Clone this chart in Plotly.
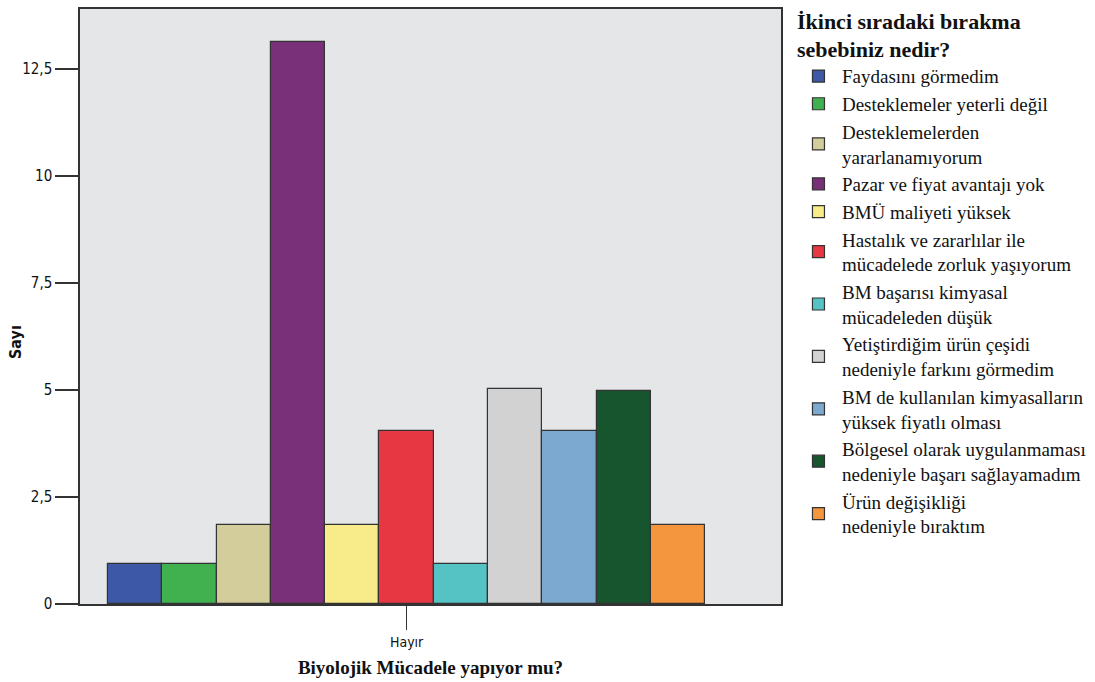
import plotly.graph_objects as go

category = ["Hayır"]
reasons = [
    "Faydasını görmedim",
    "Desteklemeler yeterli değil",
    "Desteklemelerden<br>yararlanamıyorum",
    "Pazar ve fiyat avantajı yok",
    "BMÜ maliyeti yüksek",
    "Hastalık ve zararlılar ile<br>mücadelede zorluk yaşıyorum",
    "BM başarısı kimyasal<br>mücadeleden düşük",
    "Yetiştirdiğim ürün çeşidi<br>nedeniyle farkını görmedim",
    "BM de kullanılan kimyasalların<br>yüksek fiyatlı olması",
    "Bölgesel olarak uygulanmaması<br>nedeniyle başarı sağlayamadım",
    "Ürün değişikliği<br>nedeniyle bıraktım",
]
counts = [0.93, 0.93, 1.84, 13.14, 1.84, 4.05, 0.93, 5.03, 4.05, 4.98, 1.84]
colors = ["#3E58A8", "#41B04F", "#D3CD9B", "#7A2F79", "#F8EC8A", "#E63743",
          "#55C3C4", "#D2D2D2", "#7BA9CF", "#17552E", "#F4963E"]
ytick_vals = [0, 2.5, 5, 7.5, 10, 12.5]
ytick_text = ["0", "2,5", "5", "7,5", "10", "12,5"]

fig = go.Figure()
for name, val, col in zip(reasons, counts, colors):
    fig.add_trace(go.Bar(
        x=category, y=[val], name=name,
        marker=dict(color=col, line=dict(color="#333333", width=1.2)),
    ))

sans = "Liberation Sans Narrow, DejaVu Sans Condensed, Roboto"
serif = "Liberation Serif"
tick_font = dict(family=sans, size=15, color="#111")
fig.update_layout(
    width=1095, height=682,
    margin=dict(l=80, r=314, t=9, b=78, autoexpand=False),
    paper_bgcolor="white",
    plot_bgcolor="#E5E6E8",
    barmode="group", bargap=0, bargroupgap=0,
    showlegend=True,
    legend=dict(
        xref="container", yref="container",
        x=0.726, xanchor="left", y=1.013, yanchor="top",
        maxheight=700,
        itemwidth=37,
        title=dict(text="<b>İkinci sıradaki bırakma<br>sebebiniz nedir?</b>",
                   font=dict(family=serif, size=22, color="#111")),
        font=dict(family=serif, size=19, color="#111"),
        tracegroupgap=0,
        bgcolor="rgba(0,0,0,0)",
    ),
    xaxis=dict(
        range=[-0.547, 0.627],
        showline=True, linecolor="#333", linewidth=1.5, mirror=True,
        ticks="outside", ticklen=24, tickwidth=1.2, tickcolor="#333",
        tickfont=dict(family=sans, size=14, color="#111"),
        title=dict(text="<b>Biyolojik Mücadele yapıyor mu?</b>",
                   font=dict(family=serif, size=19, color="#111"),
                   standoff=12),
        showgrid=False, zeroline=False,
    ),
    yaxis=dict(
        range=[0, 13.9],
        tickvals=ytick_vals, ticktext=ytick_text,
        showline=True, linecolor="#333", linewidth=1.5, mirror=True,
        ticks="outside", ticklen=23, tickwidth=1.5, tickcolor="#333",
        tickfont=tick_font,
        showgrid=False, zeroline=False,
    ),
    annotations=[dict(
        text="<b>Sayı</b>", textangle=-90, xref="paper", yref="paper",
        x=-0.093, y=0.44, xanchor="center", yanchor="middle", showarrow=False,
        font=dict(family=sans, size=16, color="#111"),
    )],
)

fig.write_html("out.html")
